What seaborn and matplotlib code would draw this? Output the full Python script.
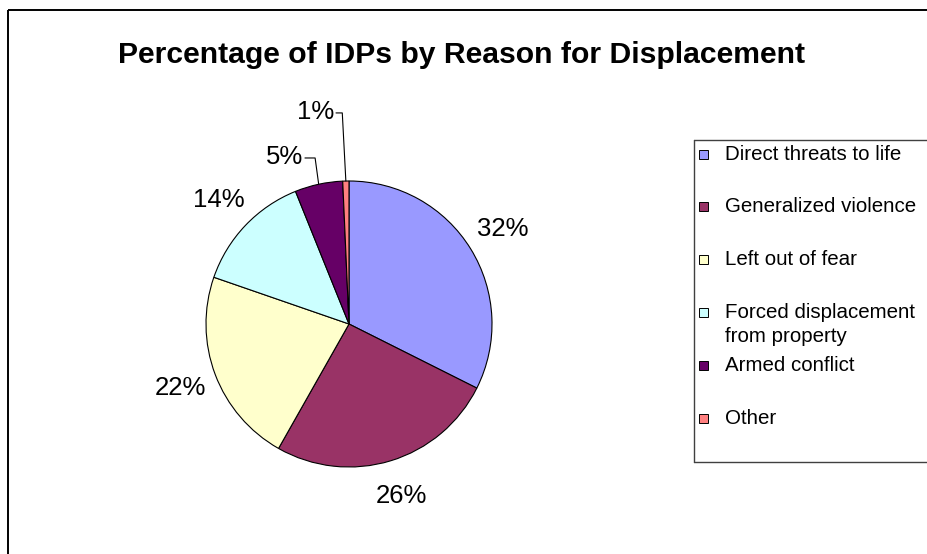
import numpy as np
import matplotlib
matplotlib.use("Agg")
import matplotlib.pyplot as plt
import seaborn as sns

# data
reasons = ["Direct threats to life", "Generalized violence", "Left out of fear",
           "Forced displacement\nfrom property", "Armed conflict", "Other"]
shares = [32.4, 25.8, 22.1, 13.6, 5.4, 0.7]
slice_colors = ["#9999FF", "#993366", "#FFFFCC", "#CCFFFF", "#660066", "#FF8080"]
chart_title = "Percentage of IDPs by Reason for Displacement"

sns.set_theme(style="white")
plt.rcParams["font.family"] = ["Liberation Sans", "DejaVu Sans"]

W, H = 927, 554
fig = plt.figure(figsize=(W / 100, H / 100), dpi=100)
fig.patch.set_facecolor("white")

# overlay in pixel coordinates for frame, title, legend
over = fig.add_axes([0, 0, 1, 1])
over.set_xlim(0, W)
over.set_ylim(H, 0)
over.axis("off")

# chart frame (extends past right/bottom edge)
over.plot([8, W + 5], [10, 10], color="black", lw=1.4, solid_capstyle="butt")
over.plot([8, 8], [10, H + 5], color="black", lw=1.4, solid_capstyle="butt")

over.text(462, 55, chart_title, ha="center", va="center",
          fontsize=21.7, fontweight="bold", color="black")

# pie: centre (349, 324) px, radius 143 px
cx, cy, r = 349, 324, 143
ax = fig.add_axes([(cx - r) / W, (H - cy - r) / H, 2 * r / W, 2 * r / H])
palette = sns.color_palette(slice_colors)
wedges, texts, autotexts = ax.pie(
    shares, colors=palette, startangle=90, counterclock=False, radius=1,
    autopct="%.0f%%", pctdistance=1.26,
    wedgeprops=dict(edgecolor="black", linewidth=0.8),
    textprops=dict(fontsize=18.5, color="black"))
ax.set_xlim(-1, 1)
ax.set_ylim(-1, 1)

# small slices get labels pushed out with leader lines
leader_layout = {4: (1.161, -0.308), 5: (1.476, -0.091)}
for i, (ly, lx_end) in leader_layout.items():
    w = wedges[i]
    mid = np.deg2rad((w.theta1 + w.theta2) / 2)
    ax_, ay_ = np.cos(mid), np.sin(mid)
    ax.plot([ax_, ax_ - 0.025, lx_end], [ay_, ly, ly], color="black",
            lw=0.8, clip_on=False)
    autotexts[i].set_position((lx_end - 0.015, ly + 0.005))
    autotexts[i].set_ha("right")

# legend box
over.plot([694, W + 5], [140, 140], color="#404040", lw=1.0)
over.plot([694, W + 5], [462, 462], color="#404040", lw=1.0)
over.plot([694, 694], [140, 462], color="#404040", lw=1.0)

slot0, step = 154, 52.8
for k, (lab, col) in enumerate(zip(reasons, palette)):
    y = slot0 + step * k
    over.add_patch(plt.Rectangle((699.5, y - 4.5), 9, 9, facecolor=col,
                                 edgecolor="black", lw=0.7))
    for j, line in enumerate(lab.split("\n")):
        over.text(725, y + 24 * j, line, ha="left", va="center",
                  fontsize=14.8, color="black")

fig.savefig("out.png", dpi=100, facecolor="white")
